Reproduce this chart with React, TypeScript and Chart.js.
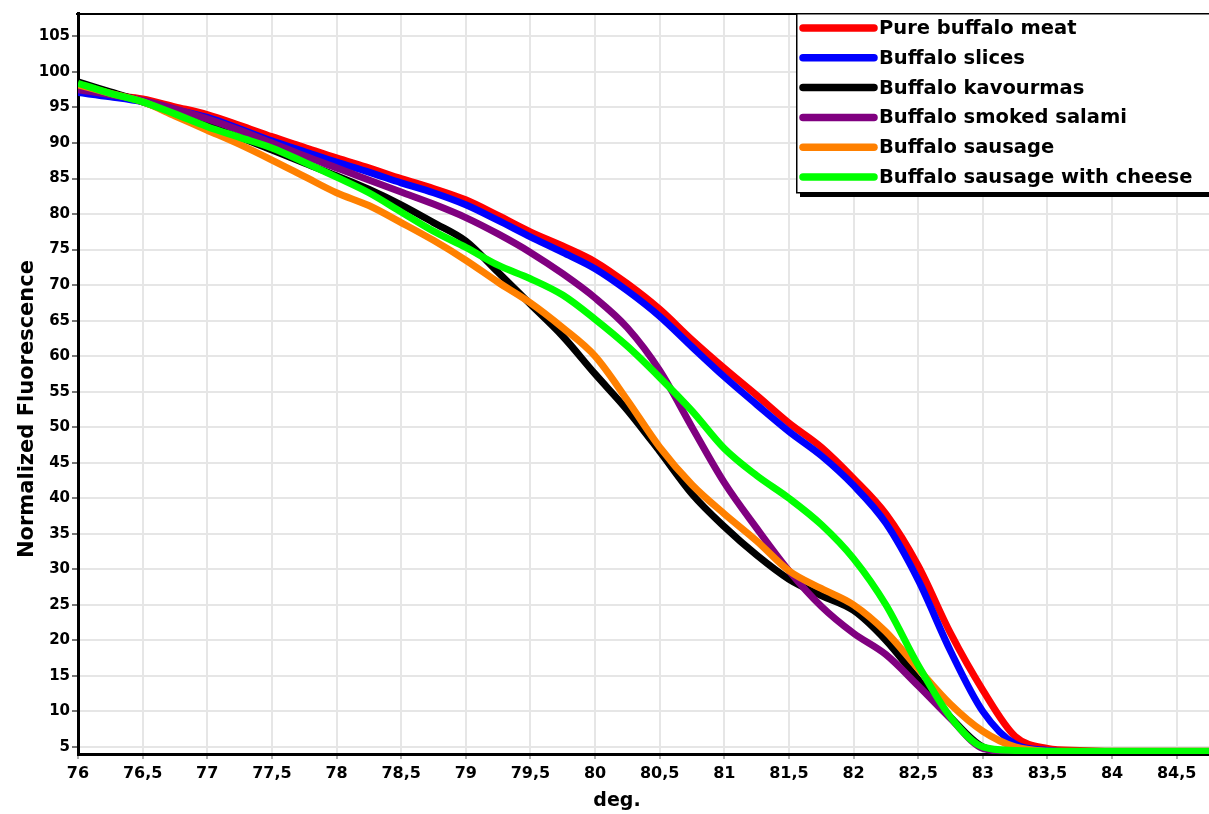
import React, { useEffect, useRef } from "react";
import { Chart, registerables } from "chart.js";

Chart.register(...registerables);

// Temperature (deg.) sample points
const temps = [
  76, 76.25, 76.5, 76.75, 77, 77.25, 77.5, 77.75, 78, 78.25, 78.5, 78.75,
  79, 79.25, 79.5, 79.75, 80, 80.25, 80.5, 80.75, 81, 81.25, 81.5, 81.75,
  82, 82.25, 82.5, 82.75, 83, 83.25, 83.5, 83.75, 84, 84.25, 84.5, 84.75,
];

const pureBuffaloMeat = [
  97.6, 96.8, 96.2, 95.1, 94.0, 92.5, 90.9, 89.4, 87.9, 86.5, 85.0, 83.6,
  82.0, 79.8, 77.5, 75.5, 73.3, 70.2, 66.6, 62.3, 58.3, 54.5, 50.6, 47.2,
  42.8, 37.8, 30.5, 21.0, 13.0, 6.5, 4.8, 4.5, 4.4, 4.4, 4.4, 4.4,
];

const buffaloSlices = [
  97.1, 96.5, 95.8, 94.7, 93.6, 92.0, 90.3, 88.8, 87.3, 85.9, 84.4, 83.0,
  81.3, 79.1, 76.8, 74.6, 72.3, 69.2, 65.6, 61.3, 57.1, 53.2, 49.4, 46.0,
  41.8, 36.5, 28.5, 18.5, 10.0, 5.4, 4.5, 4.3, 4.3, 4.3, 4.3, 4.3,
];

const buffaloKavourmas = [
  98.6, 97.2, 95.8, 94.2, 92.5, 90.8, 89.0, 87.2, 85.4, 83.5, 81.3, 78.8,
  76.2, 71.8, 67.3, 62.8, 57.5, 52.4, 46.6, 40.6, 36.0, 32.0, 28.6, 26.3,
  24.2, 20.0, 14.5, 9.2, 5.0, 4.2, 4.1, 4.1, 4.1, 4.1, 4.1, 4.1,
];

const buffaloSmokedSalami = [
  97.5, 96.8, 96.0, 94.8, 93.4, 91.8, 90.0, 88.2, 86.5, 84.8, 83.1, 81.4,
  79.5, 77.2, 74.6, 71.6, 68.2, 64.0, 58.0, 50.0, 42.2, 35.8, 29.8, 24.8,
  21.0, 18.0, 13.6, 9.0, 4.8, 4.3, 4.3, 4.3, 4.3, 4.3, 4.3, 4.3,
];

const buffaloSausage = [
  98.2, 97.0, 95.8, 93.8, 91.8, 89.8, 87.6, 85.3, 83.0, 81.2, 78.8, 76.3,
  73.5, 70.4, 67.5, 64.0, 60.0, 53.8, 47.2, 41.9, 37.8, 34.0, 29.8, 27.3,
  25.0, 21.2, 16.0, 11.0, 7.2, 5.0, 4.4, 4.3, 4.3, 4.3, 4.3, 4.3,
];

const buffaloSausageCheese = [
  98.4, 97.0, 95.8, 94.1, 92.3, 90.8, 89.3, 87.3, 85.2, 83.0, 80.3, 77.6,
  75.3, 72.8, 70.9, 68.6, 65.2, 61.4, 57.0, 52.3, 47.0, 43.2, 40.0, 36.3,
  31.5, 25.0, 16.5, 9.2, 5.0, 4.5, 4.4, 4.4, 4.4, 4.4, 4.4, 4.4,
];

const seriesNames = [
  "Pure buffalo meat",
  "Buffalo slices",
  "Buffalo kavourmas",
  "Buffalo smoked salami",
  "Buffalo sausage",
  "Buffalo sausage with cheese",
];
const seriesValues = [
  pureBuffaloMeat,
  buffaloSlices,
  buffaloKavourmas,
  buffaloSmokedSalami,
  buffaloSausage,
  buffaloSausageCheese,
];
const seriesColors = ["#ff0000", "#0000ff", "#000000", "#800080", "#ff8000", "#00ff00"];

const xTicks = [76, 76.5, 77, 77.5, 78, 78.5, 79, 79.5, 80, 80.5, 81, 81.5, 82, 82.5, 83, 83.5, 84, 84.5];
const yTicks = [5, 10, 15, 20, 25, 30, 35, 40, 45, 50, 55, 60, 65, 70, 75, 80, 85, 90, 95, 100, 105];

const xTitle = "deg.";
const yTitle = "Normalized Fluorescence";

const FONT = "DejaVu Sans";

const decorPlugin = {
  id: "decor",
  afterDraw(chart: any) {
    const ctx = chart.ctx as CanvasRenderingContext2D;
    const ca = chart.chartArea;
    ctx.save();
    // top border
    ctx.strokeStyle = "#000";
    ctx.lineWidth = 2;
    ctx.beginPath();
    ctx.moveTo(ca.left - 2, ca.top + 1);
    ctx.lineTo(ca.right, ca.top + 1);
    ctx.stroke();

    // legend box
    const lx = 796, ly = 13, lw = 440, lh = 179;
    ctx.fillStyle = "#000";
    ctx.fillRect(lx + 4, ly + 5, lw, lh);
    ctx.fillStyle = "#fff";
    ctx.fillRect(lx, ly, lw, lh);
    ctx.strokeStyle = "#000";
    ctx.lineWidth = 1.5;
    ctx.strokeRect(lx + 0.75, ly + 0.75, lw, lh);

    ctx.font = `bold 19.5px "${FONT}"`;
    ctx.textBaseline = "middle";
    ctx.textAlign = "left";
    seriesNames.forEach((name, i) => {
      const y = 28 + i * 29.8;
      ctx.strokeStyle = seriesColors[i];
      ctx.lineWidth = 7.5;
      ctx.lineCap = "round";
      ctx.beginPath();
      ctx.moveTo(803, y);
      ctx.lineTo(874, y);
      ctx.stroke();
      ctx.fillStyle = "#000";
      ctx.fillText(name, 879, y + 1);
    });

    // axis titles
    ctx.fillStyle = "#000";
    ctx.font = `bold 19px "${FONT}"`;
    ctx.textAlign = "center";
    ctx.textBaseline = "alphabetic";
    ctx.fillText(xTitle, 617, 806);

    ctx.save();
    ctx.translate(33, 409);
    ctx.rotate(-Math.PI / 2);
    ctx.font = `bold 21px "${FONT}"`;
    ctx.fillText(yTitle, 0, 0);
    ctx.restore();

    ctx.restore();
  },
};

export default function App() {
  const canvasRef = useRef<HTMLCanvasElement | null>(null);

  useEffect(() => {
    document.body.style.margin = "0";
    const canvas = canvasRef.current;
    if (!canvas) return;
    const drawOrder = [6, 5, 4, 3, 2, 1];
    const chart = new Chart(canvas, {
      type: "line",
      data: {
        datasets: seriesNames.map((name, s) => ({
          label: name,
          data: temps.map((t, i) => ({ x: t, y: seriesValues[s][i] })),
          borderColor: seriesColors[s],
          backgroundColor: seriesColors[s],
          borderWidth: 7,
          pointRadius: 0,
          fill: false,
          cubicInterpolationMode: "monotone",
          order: drawOrder[s],
        })),
      },
      options: {
        animation: false,
        responsive: false,
        devicePixelRatio: 1,
        layout: { padding: { top: 13, left: 0, right: 0, bottom: 0 } },
        plugins: {
          legend: { display: false },
          tooltip: { enabled: false },
          title: { display: false },
        },
        scales: {
          x: {
            type: "linear",
            min: 76,
            max: 84.75,
            afterBuildTicks: (axis: any) => {
              axis.ticks = xTicks.map((v) => ({ value: v }));
            },
            afterFit: (scale: any) => {
              scale.height = 60;
            },
            ticks: {
              autoSkip: false,
              maxRotation: 0,
              minRotation: 0,
              padding: 5,
              color: "#000",
              font: { family: FONT, weight: "bold", size: 16 },
              callback: (v: any) => String(v).replace(".", ","),
            },
            grid: { color: "#e6e6e6", lineWidth: 2, tickLength: 5, tickColor: "#b0b0b0" },
            border: { color: "#000", width: 3 },
          },
          y: {
            type: "linear",
            min: 4,
            max: 108.3,
            afterBuildTicks: (axis: any) => {
              axis.ticks = yTicks.map((v) => ({ value: v }));
            },
            afterFit: (scale: any) => {
              scale.width = 78;
            },
            ticks: {
              autoSkip: false,
              padding: 2,
              color: "#000",
              font: { family: FONT, weight: "bold", size: 15 },
              callback: (v: any) => String(v),
            },
            grid: { color: "#e6e6e6", lineWidth: 2, tickLength: 6, tickColor: "#777" },
            border: { color: "#000", width: 3 },
          },
        },
      },
      plugins: [decorPlugin],
    });
    return () => chart.destroy();
  }, []);

  return (
    <div style={{ width: 1209, height: 814, overflow: "hidden" }}>
      <canvas ref={canvasRef} width={1209} height={814} style={{ display: "block" }} />
    </div>
  );
}
